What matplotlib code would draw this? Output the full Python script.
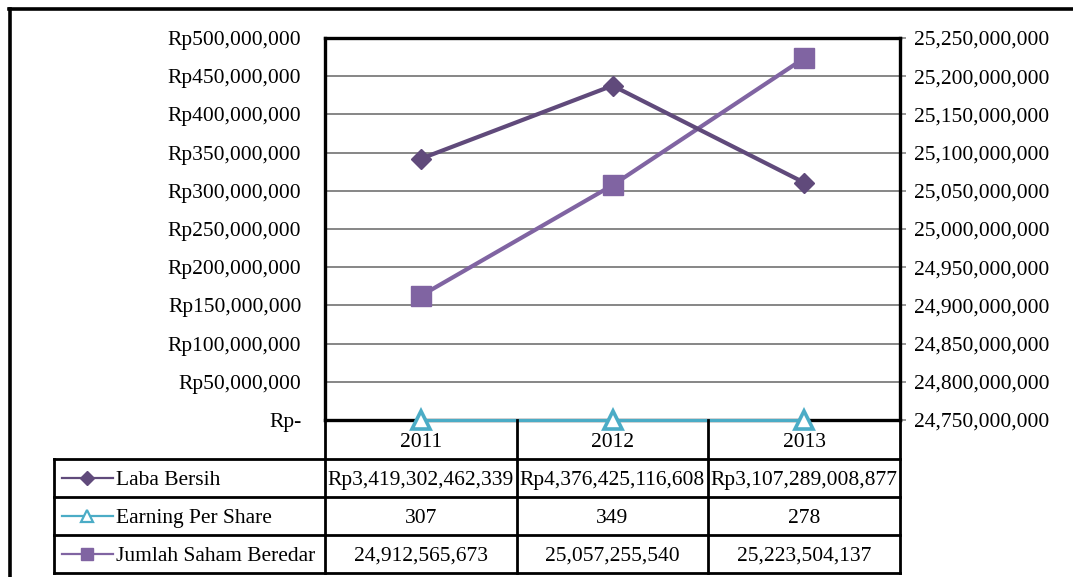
import matplotlib.pyplot as plt
from matplotlib.lines import Line2D

plt.rcParams["font.family"] = ["Liberation Serif", "DejaVu Serif"]

years = ["2011", "2012", "2013"]
laba_bersih = [3419302462339, 4376425116608, 3107289008877]
eps = [307, 349, 278]
saham_beredar = [24912565673, 25057255540, 25223504137]

laba_labels = ["Rp3,419,302,462,339", "Rp4,376,425,116,608", "Rp3,107,289,008,877"]
eps_labels = ["307", "349", "278"]
saham_labels = ["24,912,565,673", "25,057,255,540", "25,223,504,137"]

left_ticks = [0, 50e6, 100e6, 150e6, 200e6, 250e6, 300e6, 350e6, 400e6, 450e6, 500e6]
left_tick_labels = ["Rp-", "Rp50,000,000", "Rp100,000,000", "Rp150,000,000",
                    "Rp200,000,000", "Rp250,000,000", "Rp300,000,000",
                    "Rp350,000,000", "Rp400,000,000", "Rp450,000,000",
                    "Rp500,000,000"]
right_ticks = [24.75e9, 24.80e9, 24.85e9, 24.90e9, 24.95e9, 25.00e9,
               25.05e9, 25.10e9, 25.15e9, 25.20e9, 25.25e9]

# laba bersih is plotted on the left axis in units of 10,000
laba_scale = 1e-4

c_laba = "#604A7B"
c_eps = "#4BACC6"
c_saham = "#8064A2"
fs = 15.5

W, H = 1073, 577


def fx(x):
    return x / W


def fy(y):
    return 1 - y / H


fig = plt.figure(figsize=(W / 100, H / 100), dpi=100)
ax = fig.add_axes([fx(325), fy(420), (900 - 325) / W, (420 - 38) / H])
ax2 = ax.twinx()
# left-axis series are drawn over the frame, which belongs to ax2
ax.set_zorder(ax2.get_zorder() + 1)
ax.patch.set_visible(False)
ax2.patch.set_visible(True)
ax2.patch.set_facecolor("white")

x = list(range(len(years)))
ax.set_xlim(-0.5, len(years) - 0.5)
ax.set_ylim(0, 500e6)
ax2.set_ylim(24.75e9, 25.25e9)

ax.set_yticks(left_ticks)
ax.set_yticklabels(left_tick_labels, fontsize=fs)
ax.tick_params(axis="y", length=0, pad=17)
ax.set_xticks([])
for s in ax.spines.values():
    s.set_visible(False)

ax2.set_yticks(right_ticks)
ax2.set_yticklabels([f"{v:,.0f}" for v in right_ticks], fontsize=fs)
ax2.tick_params(axis="y", length=4, width=1.2, color="#868686", pad=6)
ax2.grid(axis="y", color="#868686", lw=1.4)
ax2.set_axisbelow(True)
for s in ax2.spines.values():
    s.set_color("black")
    s.set_linewidth(2.4)

ax2.plot(x, saham_beredar, color=c_saham, lw=3, marker="s", markersize=14,
         zorder=5)
ax.plot(x, [v * laba_scale for v in laba_bersih], color=c_laba, lw=3,
        marker="D", markersize=10, zorder=5)
ax.plot(x, eps, color=c_eps, lw=2.2, marker="^", markersize=13,
        markerfacecolor="white", markeredgecolor=c_eps, markeredgewidth=2.6,
        clip_on=False, zorder=6)


def hline(y, x0, x1, lw=2.0, color="black"):
    fig.add_artist(Line2D([fx(x0), fx(x1)], [fy(y), fy(y)], color=color, lw=lw))


def vline(xp, y0, y1, lw=2.0, color="black"):
    fig.add_artist(Line2D([fx(xp), fx(xp)], [fy(y0), fy(y1)], color=color, lw=lw))


# outer chart frame
hline(9, 9, W, lw=2.6)
vline(10, 9, H, lw=2.6)

# data table below the plot
col_edges = [325, 517, 708, 900]
row_edges = [459, 497, 535, 573]
for xe in col_edges:
    vline(xe, 420, 573)
vline(54, 459, 573)
for ye in row_edges:
    hline(ye, 54, 900)

col_centers = [(col_edges[i] + col_edges[i + 1]) / 2 for i in range(3)]
for cx, yr in zip(col_centers, years):
    fig.text(fx(cx), fy(440), yr, fontsize=fs, ha="center",
             va="center_baseline")

rows = [
    ("Laba Bersih", laba_labels, dict(color=c_laba, marker="D", markersize=7)),
    ("Earning Per Share", eps_labels,
     dict(color=c_eps, marker="^", markersize=9, markerfacecolor="white",
          markeredgecolor=c_eps, markeredgewidth=1.6)),
    ("Jumlah Saham Beredar", saham_labels,
     dict(color=c_saham, marker="s", markersize=9)),
]
for i, (name, labels, style) in enumerate(rows):
    cy = (row_edges[i] + row_edges[i + 1]) / 2
    fig.add_artist(Line2D([fx(62), fx(87), fx(113)], [fy(cy)] * 3, lw=1.6,
                          markevery=[1], **style))
    fig.text(fx(116), fy(cy), name, fontsize=fs, ha="left",
             va="center_baseline")
    for cx, lab in zip(col_centers, labels):
        fig.text(fx(cx), fy(cy), lab, fontsize=fs, ha="center",
                 va="center_baseline")

fig.savefig("out.png", dpi=100)
